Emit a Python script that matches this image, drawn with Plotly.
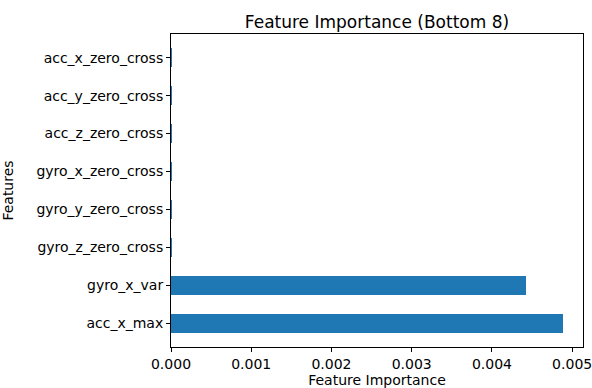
import plotly.graph_objects as go

features = ["acc_x_max", "gyro_x_var", "gyro_z_zero_cross", "gyro_y_zero_cross",
            "gyro_x_zero_cross", "acc_z_zero_cross", "acc_y_zero_cross", "acc_x_zero_cross"]
importance = [0.00489, 0.00443, 0.000004, 0.000004, 0.000004, 0.000004, 0.000003, 0.000003]
x_ticks = [0.0, 0.001, 0.002, 0.003, 0.004, 0.005]
x_ticklabels = ["0.000", "0.001", "0.002", "0.003", "0.004", "0.005"]

ypos = list(range(len(features)))

fig = go.Figure(go.Bar(
    x=importance, y=ypos, orientation="h", width=0.5,
    marker=dict(color="#1f77b4", line=dict(width=0)),
))

font = "DejaVu Sans, sans-serif"
fig.update_layout(
    width=592, height=388,
    margin=dict(l=171, r=9, t=34, b=41),
    paper_bgcolor="white", plot_bgcolor="white",
    font=dict(family=font, size=14, color="black"),
    title=dict(text="Feature Importance (Bottom 8)", x=0.5, xref="paper", xanchor="center",
               y=1, yref="paper", yanchor="bottom", pad=dict(b=6),
               font=dict(size=17, color="black")),
    showlegend=False,
    bargap=0,
)
fig.update_xaxes(
    range=[0, 0.005135], tickvals=x_ticks, ticktext=x_ticklabels, automargin=False,
    showline=True, mirror=True, linecolor="black", linewidth=1,
    ticks="outside", ticklen=4, tickcolor="black", showgrid=False, zeroline=False,
    ticklabeloverflow="allow", ticklabelstandoff=0,
    title=dict(text="Feature Importance", standoff=5, font=dict(size=14)),
)
fig.update_yaxes(
    range=[-0.625, 7.625], tickvals=ypos, ticktext=features, automargin=False,
    showline=True, mirror=True, linecolor="black", linewidth=1,
    ticks="outside", ticklen=4, tickcolor="black", showgrid=False, zeroline=False,
    title=dict(text="Features", standoff=20, font=dict(size=14)),
)

# Remove the page's default body margin and scrollbars so the figure fills the window.
fig.write_html(
    "out.html",
    config={"displayModeBar": False},
    post_script="document.body.style.margin='0';document.body.style.overflow='hidden';",
)
